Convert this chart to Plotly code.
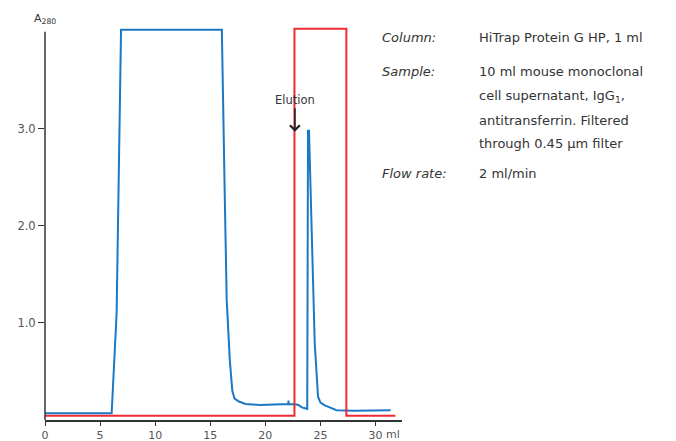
import plotly.graph_objects as go

# ---- data ----
uv_volume_ml = [0, 6.05, 6.5, 6.9, 16.05, 16.2, 16.32, 16.49, 16.77, 17.0, 17.2, 17.6, 18.2,
                19.5, 21.0, 22.08, 22.1, 22.12, 22.8, 23.0, 23.3, 23.8, 23.87, 23.96, 24.48,
                24.78, 25.0, 25.4, 25.84, 26.45, 28.0, 31.37]
uv_a280 = [0.07, 0.07, 1.1, 4.02, 4.02, 2.9, 2.27, 1.24, 0.62, 0.3, 0.22, 0.19, 0.165,
           0.155, 0.16, 0.165, 0.2, 0.165, 0.16, 0.155, 0.13, 0.115, 2.98, 2.98, 0.79,
           0.24, 0.18, 0.15, 0.13, 0.1, 0.095, 0.1]

elution_volume_ml = [0, 22.64, 22.64, 27.35, 27.35, 31.8]
elution_level = [0.045, 0.045, 4.03, 4.03, 0.045, 0.045]

x_tick_vals = [0, 5, 10, 15, 20, 25, 30]
x_tick_text = ["0", "5", "10", "15", "20", "25", "30"]
y_tick_vals = [1, 2, 3]
y_tick_text = ["1.0", "2.0", "3.0"]

elution_mark_ml = 22.68
elution_mark_a280 = 2.97

info_labels = ["Column:", "Sample:", "Flow rate:"]
info_values = [["HiTrap Protein G HP, 1 ml"],
               ["10 ml mouse monoclonal", "cell supernatant, IgG<sub>1</sub>,",
                "antitransferrin. Filtered", "through 0.45 µm filter"],
               ["2 ml/min"]]

# ---- layout geometry ----
W, H = 676, 441
ML, MR, MT, MB = 45, 273.6, 22.3, 21
PW, PH = W - ML - MR, H - MT - MB
X_RANGE = [0, 32.4]
Y_RANGE = [0, 4.1]

def px(xp):
    return (xp - ML) / PW

def py(yp):
    return (H - MB - yp) / PH

FONT = "DejaVu Sans"
BLUE = "#1a78c4"
RED = "#ee2a33"
AX = "#333333"
TICK = "#555555"

fig = go.Figure()
fig.add_trace(go.Scatter(x=uv_volume_ml, y=uv_a280, mode="lines",
                         line=dict(color=BLUE, width=2), hoverinfo="skip"))
fig.add_trace(go.Scatter(x=elution_volume_ml, y=elution_level, mode="lines",
                         line=dict(color=RED, width=2), hoverinfo="skip"))

annotations = []
# y-axis title
annotations.append(dict(xref="paper", yref="paper", x=px(45), y=py(19), text="A<sub>280</sub>",
                        showarrow=False, font=dict(family=FONT, size=11, color=AX),
                        xanchor="center", yanchor="middle"))
# "ml" unit after 30
annotations.append(dict(xref="paper", yref="paper", x=px(384), y=py(434), text="ml",
                        showarrow=False, font=dict(family=FONT, size=11, color=TICK),
                        xanchor="left", yanchor="middle"))
# Elution arrow
annotations.append(dict(x=elution_mark_ml, y=elution_mark_a280, xref="x", yref="y",
                        text="Elution", showarrow=True, arrowhead=4, arrowsize=1.2,
                        arrowwidth=1.6, arrowcolor="#222222", ax=0, ay=-32,
                        font=dict(family=FONT, size=11.5, color=AX)))
# info block
rows_y = [[38], [72, 97, 121, 144], [174]]
for lab, vals, ys in zip(info_labels, info_values, rows_y):
    annotations.append(dict(xref="paper", yref="paper", x=px(380), y=py(ys[0]), text=f"<i>{lab}</i>",
                            showarrow=False, xanchor="left", yanchor="middle",
                            font=dict(family=FONT, size=13, color=AX)))
    for v, yy in zip(vals, ys):
        annotations.append(dict(xref="paper", yref="paper", x=px(477), y=py(yy), text=v,
                                showarrow=False, xanchor="left", yanchor="middle",
                                font=dict(family=FONT, size=13, color=AX)))

fig.update_layout(
    width=W, height=H,
    margin=dict(l=ML, r=MR, t=MT, b=MB, pad=0, autoexpand=False),
    paper_bgcolor="white", plot_bgcolor="white",
    showlegend=False,
    annotations=annotations,
    shapes=[dict(type="line", xref="paper", yref="y", x0=0, x1=0, y0=0, y1=4.0,
                 line=dict(color=AX, width=1.5))],
    xaxis=dict(range=X_RANGE, showgrid=False, zeroline=False, showline=True, automargin=False,
               linecolor=AX, linewidth=1.5, ticks="outside", ticklen=4, tickwidth=1.2,
               tickcolor=AX, tickvals=x_tick_vals, ticktext=x_tick_text,
               tickfont=dict(family=FONT, size=11, color=TICK)),
    yaxis=dict(range=Y_RANGE, showgrid=False, zeroline=False, showline=False, automargin=False,
               ticks="outside", ticklen=6, tickwidth=1.2, tickcolor=AX,
               tickvals=y_tick_vals, ticktext=y_tick_text,
               tickfont=dict(family=FONT, size=11.5, color=TICK)),
)

fig.write_html("out.html", config={"displayModeBar": False},
               post_script="document.body.style.margin='0px';document.body.style.overflow='hidden';")
